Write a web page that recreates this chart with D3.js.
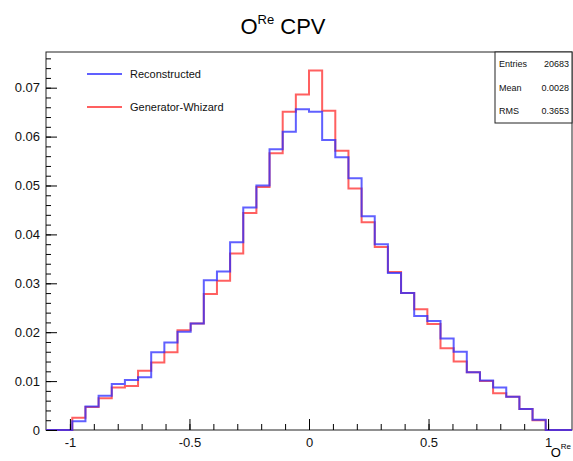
<!DOCTYPE html>
<meta charset="utf-8">
<head>
  <script src="https://d3js.org/d3.v7.min.js"></script>
  <style>
    body { margin: 0; background: #fff; }
    text { font-family: "Liberation Sans", Arial, sans-serif; }
  </style>
</head>
<body>
<div id="my_dataviz"></div>
<script>

// bin edges of the histogram (40 bins)
var binEdges = [-1.1, -1.045, -0.99, -0.935, -0.88, -0.825, -0.77, -0.715, -0.66, -0.605,
                -0.55, -0.495, -0.44, -0.385, -0.33, -0.275, -0.22, -0.165, -0.11, -0.055,
                 0, 0.055, 0.11, 0.165, 0.22, 0.275, 0.33, 0.385, 0.44, 0.495,
                 0.55, 0.605, 0.66, 0.715, 0.77, 0.825, 0.88, 0.935, 0.99, 1.045, 1.1];

// Reconstructed (blue)
var reconstructed = [0, 0, 0.0018, 0.0048, 0.0070, 0.0094, 0.0102, 0.0108, 0.0159, 0.0179,
                     0.0201, 0.0218, 0.0306, 0.0324, 0.0384, 0.0455, 0.0500, 0.0574, 0.0610, 0.0656,
                     0.0651, 0.0593, 0.0558, 0.0515, 0.0437, 0.0380, 0.0321, 0.0280, 0.0233, 0.0223,
                     0.0187, 0.0160, 0.0118, 0.0101, 0.0087, 0.0068, 0.0043, 0.0021, 0, 0];

// Generator-Whizard (red)
var generator = [0, 0, 0.0025, 0.0047, 0.0065, 0.0087, 0.0090, 0.0121, 0.0138, 0.0159,
                 0.0204, 0.0218, 0.0278, 0.0305, 0.0361, 0.0444, 0.0497, 0.0566, 0.0651, 0.0686,
                 0.0735, 0.0653, 0.0571, 0.0494, 0.0425, 0.0374, 0.0323, 0.0280, 0.0247, 0.0217,
                 0.0167, 0.0140, 0.0118, 0.0100, 0.0075, 0.0068, 0.0043, 0.0020, 0, 0];

var xTicks = [-1, -0.5, 0, 0.5, 1];
var xMinorTicks = [-1, -0.9, -0.8, -0.7, -0.6, -0.5, -0.4, -0.3, -0.2, -0.1, 0,
                   0.1, 0.2, 0.3, 0.4, 0.5, 0.6, 0.7, 0.8, 0.9, 1];
var yTicks = [0, 0.01, 0.02, 0.03, 0.04, 0.05, 0.06, 0.07];
var yMinorTicks = [0, 0.002, 0.004, 0.006, 0.008, 0.01, 0.012, 0.014, 0.016, 0.018, 0.02,
                   0.022, 0.024, 0.026, 0.028, 0.03, 0.032, 0.034, 0.036, 0.038, 0.04,
                   0.042, 0.044, 0.046, 0.048, 0.05, 0.052, 0.054, 0.056, 0.058, 0.06,
                   0.062, 0.064, 0.066, 0.068, 0.07, 0.072, 0.074, 0.076];

var stats = [["Entries", "20683"], ["Mean", "0.0028"], ["RMS", "0.3653"]];
var legendItems = [["Reconstructed", "#2b2bff"], ["Generator-Whizard", "#ff2b2b"]];

var W = 573, H = 461;
var frame = {left: 46, right: 572, top: 52, bottom: 430};

var svg = d3.select("#my_dataviz")
  .append("svg")
    .attr("width", W)
    .attr("height", H);

var x = d3.scaleLinear().domain([-1.1, 1.1]).range([frame.left, frame.right]);
var y = d3.scaleLinear().domain([0, 0.0773]).range([frame.bottom, frame.top]);

// frame
svg.append("rect")
  .attr("x", frame.left).attr("y", frame.top)
  .attr("width", frame.right - frame.left).attr("height", frame.bottom - frame.top)
  .attr("fill", "none").attr("stroke", "#222").attr("stroke-width", 1);

// histograms as step lines
function stepPath(vals) {
  var pts = [[binEdges[0], 0]];
  vals.forEach(function(v, i) {
    pts.push([binEdges[i], v]);
    pts.push([binEdges[i + 1], v]);
  });
  pts.push([binEdges[binEdges.length - 1], 0]);
  return d3.line().x(function(d) { return x(d[0]); }).y(function(d) { return y(d[1]); })(pts);
}

svg.append("path")
  .attr("d", stepPath(generator))
  .attr("fill", "none").attr("stroke", "#ff2b2b").attr("stroke-opacity", 0.75)
  .attr("stroke-width", 2);
svg.append("path")
  .attr("d", stepPath(reconstructed))
  .attr("fill", "none").attr("stroke", "#2b2bff").attr("stroke-opacity", 0.75)
  .attr("stroke-width", 2);

// axes (ticks inside the frame)
var fmt = function(d) { return String(d); };

svg.append("g")
  .attr("transform", "translate(0," + frame.bottom + ")")
  .call(d3.axisBottom(x).tickValues(xMinorTicks).tickSize(-6).tickFormat(""))
  .call(function(g) { g.select(".domain").remove(); });
svg.append("g")
  .attr("transform", "translate(0," + frame.bottom + ")")
  .call(d3.axisBottom(x).tickValues(xTicks).tickSize(-11).tickPadding(8).tickFormat(fmt))
  .call(function(g) {
    g.select(".domain").remove();
    g.selectAll("text").attr("font-size", 13).attr("fill", "#111").attr("font-family", "Liberation Sans, Arial, sans-serif");
  });

svg.append("g")
  .attr("transform", "translate(" + frame.left + ",0)")
  .call(d3.axisLeft(y).tickValues(yMinorTicks).tickSize(-5).tickFormat(""))
  .call(function(g) { g.select(".domain").remove(); });
svg.append("g")
  .attr("transform", "translate(" + frame.left + ",0)")
  .call(d3.axisLeft(y).tickValues(yTicks).tickSize(-11).tickPadding(6)
    .tickFormat(function(d) { return d === 0 ? "0" : d3.format(".2f")(d); }))
  .call(function(g) {
    g.select(".domain").remove();
    g.selectAll("text").attr("font-size", 13).attr("fill", "#111").attr("font-family", "Liberation Sans, Arial, sans-serif");
  });

// title
var title = svg.append("text")
  .attr("x", 283).attr("y", 34)
  .attr("text-anchor", "middle")
  .attr("font-size", 22).attr("fill", "#000");
title.append("tspan").text("O");
title.append("tspan").attr("font-size", 13).attr("dy", -10).text("Re");
title.append("tspan").attr("dy", 10).text(" CPV");

// x axis title
var xt = svg.append("text")
  .attr("x", 571).attr("y", 457)
  .attr("text-anchor", "end")
  .attr("font-size", 13).attr("fill", "#000");
xt.append("tspan").text("O");
xt.append("tspan").attr("font-size", 8).attr("dy", -8).text("Re");

// legend
var leg = svg.append("g");
legendItems.forEach(function(d, i) {
  var ly = 74 + i * 33;
  leg.append("line")
    .attr("x1", 87).attr("x2", 122).attr("y1", ly).attr("y2", ly)
    .attr("stroke", d[1]).attr("stroke-opacity", 0.75).attr("stroke-width", 2);
  leg.append("text")
    .attr("x", 130).attr("y", ly)
    .attr("dominant-baseline", "central")
    .attr("font-size", 11).attr("fill", "#111")
    .text(d[0]);
});

// stats box
svg.append("rect")
  .attr("x", 495).attr("y", 52).attr("width", 77).attr("height", 71)
  .attr("fill", "#fff").attr("stroke", "#222").attr("stroke-width", 1);
stats.forEach(function(s, i) {
  var sy = 64 + i * 23.5;
  svg.append("text").attr("x", 499).attr("y", sy)
    .attr("dominant-baseline", "central").attr("font-size", 9).attr("fill", "#111")
    .text(s[0]);
  svg.append("text").attr("x", 569).attr("y", sy)
    .attr("text-anchor", "end")
    .attr("dominant-baseline", "central").attr("font-size", 9).attr("fill", "#111")
    .text(s[1]);
});

</script>
</body>
